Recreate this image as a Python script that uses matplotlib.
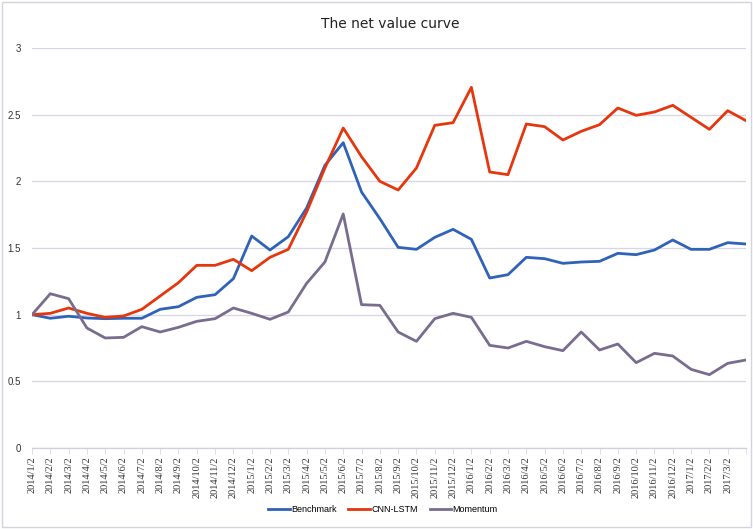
import matplotlib
matplotlib.use("Agg")
import matplotlib.pyplot as plt
from matplotlib.patches import Rectangle

# month labels on the category axis (the last point has no label)
months = [f"{y}/{m}/2" for y in (2014, 2015, 2016) for m in range(1, 13)] + \
         ["2017/1/2", "2017/2/2", "2017/3/2"]

benchmark = [1.00, 0.973, 0.988, 0.975, 0.97, 0.973, 0.973, 1.04, 1.06, 1.13,
             1.15, 1.27, 1.59, 1.485, 1.585, 1.80, 2.12, 2.29, 1.92, 1.72,
             1.505, 1.49, 1.58, 1.64, 1.565, 1.275, 1.30, 1.43, 1.42, 1.385,
             1.395, 1.40, 1.46, 1.45, 1.485, 1.56, 1.49, 1.49, 1.54, 1.53]
cnn_lstm = [1.00, 1.01, 1.05, 1.01, 0.98, 0.99, 1.04, 1.14, 1.24, 1.37,
            1.37, 1.415, 1.33, 1.43, 1.49, 1.77, 2.10, 2.40, 2.185, 2.00,
            1.935, 2.10, 2.42, 2.44, 2.705, 2.07, 2.05, 2.43, 2.41, 2.31,
            2.375, 2.425, 2.55, 2.495, 2.52, 2.57, 2.48, 2.39, 2.53, 2.455]
momentum = [1.00, 1.157, 1.12, 0.90, 0.825, 0.83, 0.91, 0.87, 0.905, 0.95,
            0.97, 1.05, 1.01, 0.965, 1.02, 1.235, 1.395, 1.755, 1.075, 1.07,
            0.87, 0.80, 0.97, 1.01, 0.98, 0.77, 0.75, 0.80, 0.76, 0.73,
            0.87, 0.735, 0.78, 0.64, 0.71, 0.69, 0.59, 0.55, 0.635, 0.66]

fig = plt.figure(figsize=(7.53, 5.29), dpi=100)
ax = fig.add_axes([32 / 753, 81 / 529, 714 / 753, 400 / 529])

x = list(range(len(benchmark)))
ax.plot(x, benchmark, color="#2f62b8", lw=2.0, label="Benchmark")
ax.plot(x, cnn_lstm, color="#e5360e", lw=2.0, label="CNN-LSTM")
ax.plot(x, momentum, color="#786d8e", lw=2.0, label="Momentum")

ax.set_xlim(0, len(benchmark) - 1)
ax.set_ylim(0, 3)
ax.set_yticks([0, 0.5, 1, 1.5, 2, 2.5, 3])
ax.set_yticklabels(["0", "0.5", "1", "1.5", "2", "2.5", "3"], fontsize=7,
                   family="Liberation Sans", color="#333333")
ax.tick_params(axis="y", length=0, pad=8)
ax.grid(axis="y", color="#d6d6e4", lw=0.9)
ax.set_axisbelow(True)

ax.set_xticks(x)
ax.set_xticklabels(months + [""], rotation=90, fontsize=7.5,
                   family="Liberation Serif", color="#333333")
ax.tick_params(axis="x", length=4, color="#dcdce6", width=0.7, pad=2)

for s in ("top", "right", "left"):
    ax.spines[s].set_visible(False)
ax.spines["bottom"].set_color("#d0d0dc")
ax.spines["bottom"].set_linewidth(0.9)

fig.text(0.518, 1 - 24 / 529, "The net value curve", ha="center", va="center",
         fontsize=10, color="#222222")

fig.legend(loc="center", bbox_to_anchor=(383 / 753, 1 - 510 / 529), ncol=3,
           frameon=False, prop={"family": "Liberation Sans", "size": 6.5},
           handlelength=2.4, columnspacing=1.3, handletextpad=0.15)

fig.patches.append(Rectangle((0.003, 0.003), 0.994, 0.994,
                             transform=fig.transFigure, fill=False,
                             edgecolor="#d4d4dc", lw=1.0))

fig.savefig("out.png", dpi=100)
